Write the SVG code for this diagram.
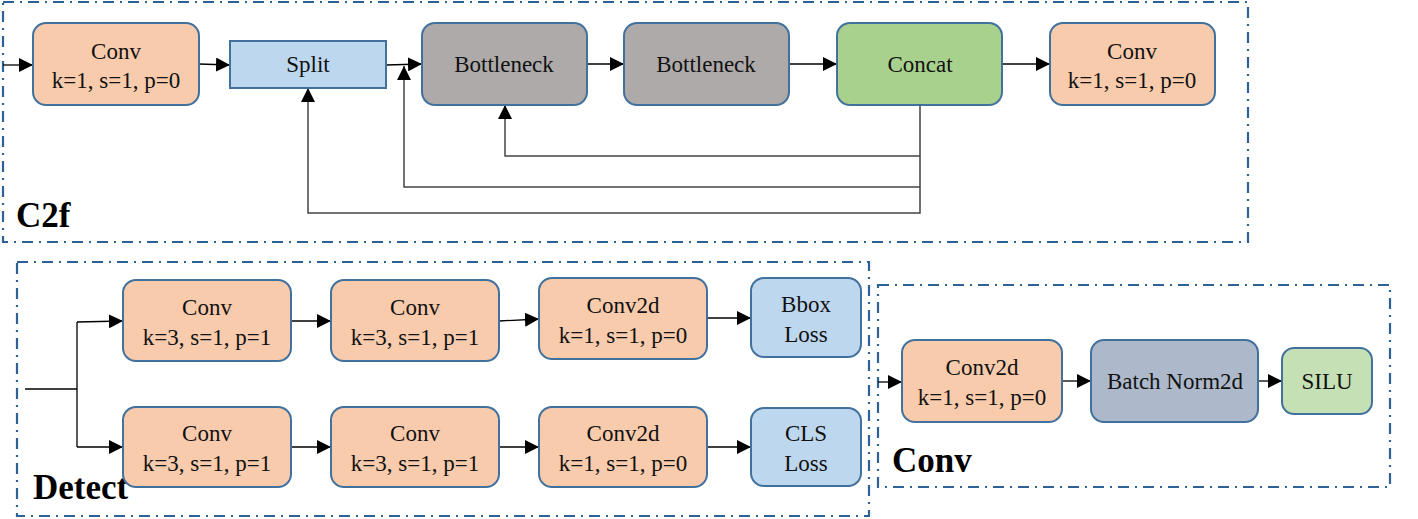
<svg xmlns="http://www.w3.org/2000/svg" width="1418" height="519" viewBox="0 0 1418 519">
<style>
.frame{fill:none;stroke:#2e6196;stroke-width:2.2;stroke-dasharray:11 6 2 6}
.nd{stroke:#41719c;stroke-width:2}
.or{fill:#f8cbad}.bl{fill:#bdd7ee}.gr{fill:#aeaaaa}.gn{fill:#a9d18e}.bn{fill:#adb9ca}.sl{fill:#c5e0b4}
text{font-family:"Liberation Serif","Times New Roman",serif;font-size:23px;fill:#111;text-anchor:middle}
.lbl{font-weight:bold;font-size:35px;text-anchor:start;fill:#000}
.ln{fill:none;stroke:#000;stroke-width:1.3}
.fb{fill:none;stroke:#444;stroke-width:1.5}
</style>
<defs>
<marker id="ah" viewBox="0 0 10 10" refX="10" refY="5" markerWidth="14" markerHeight="14" markerUnits="userSpaceOnUse" orient="auto">
<path d="M0,0 L10,5 L0,10 z" fill="#000"/>
</marker>
</defs>
<rect x="0" y="0" width="1418" height="519" fill="#fff"/>
<g id="frames">
<rect class="frame" x="3" y="2" width="1245" height="240"/>
<rect class="frame" x="17" y="262" width="852" height="254"/>
<rect class="frame" x="878" y="285" width="512" height="202"/>
</g>
<g id="labels">
<text class="lbl" x="16" y="227">C2f</text>
<text class="lbl" x="33" y="499">Detect</text>
<text class="lbl" x="892" y="472">Conv</text>
</g>
<g id="connectors">
<line class="ln" x1="3" y1="65" x2="33" y2="65" marker-end="url(#ah)"/>
<line class="ln" x1="199" y1="64" x2="230" y2="65" marker-end="url(#ah)"/>
<line class="ln" x1="386" y1="65" x2="422" y2="64" marker-end="url(#ah)"/>
<line class="ln" x1="587" y1="64" x2="624" y2="64" marker-end="url(#ah)"/>
<line class="ln" x1="789" y1="64" x2="837" y2="64" marker-end="url(#ah)"/>
<line class="ln" x1="1002" y1="64" x2="1050" y2="64" marker-end="url(#ah)"/>
<polyline class="fb" points="920,105 920,213 308,213 308,88" marker-end="url(#ah)"/>
<polyline class="fb" points="920,156 505,156 505,105" marker-end="url(#ah)"/>
<polyline class="fb" points="920,187 404,187 404,66" marker-end="url(#ah)"/>
<polyline class="ln" points="25,389 77,389"/>
<polyline class="ln" points="77,322 77,447"/>
<line class="ln" x1="77" y1="322" x2="123" y2="321" marker-end="url(#ah)"/>
<line class="ln" x1="77" y1="447" x2="123" y2="447" marker-end="url(#ah)"/>
<line class="ln" x1="291" y1="321" x2="331" y2="321" marker-end="url(#ah)"/>
<line class="ln" x1="499" y1="321" x2="539" y2="319" marker-end="url(#ah)"/>
<line class="ln" x1="707" y1="318" x2="751" y2="318" marker-end="url(#ah)"/>
<line class="ln" x1="291" y1="447" x2="331" y2="447" marker-end="url(#ah)"/>
<line class="ln" x1="499" y1="447" x2="539" y2="447" marker-end="url(#ah)"/>
<line class="ln" x1="707" y1="447" x2="751" y2="447" marker-end="url(#ah)"/>
<line class="ln" x1="878" y1="382" x2="902" y2="382" marker-end="url(#ah)"/>
<line class="ln" x1="1062" y1="381" x2="1091" y2="381" marker-end="url(#ah)"/>
<line class="ln" x1="1258" y1="381" x2="1282" y2="381" marker-end="url(#ah)"/>
</g>
<g id="c2f-conv1"><rect class="nd or" x="33" y="23" width="166" height="82" rx="13"/><text x="116" y="59">Conv</text><text x="116" y="88">k=1, s=1, p=0</text></g>
<g id="c2f-split"><rect class="nd bl" x="230" y="41" width="156" height="47"/><text x="308" y="72">Split</text></g>
<g id="c2f-bottleneck1"><rect class="nd gr" x="422" y="23" width="165" height="82" rx="13"/><text x="504" y="72">Bottleneck</text></g>
<g id="c2f-bottleneck2"><rect class="nd gr" x="624" y="23" width="165" height="82" rx="13"/><text x="706" y="72">Bottleneck</text></g>
<g id="c2f-concat"><rect class="nd gn" x="837" y="23" width="165" height="82" rx="13"/><text x="920" y="72">Concat</text></g>
<g id="c2f-conv2"><rect class="nd or" x="1050" y="23" width="165" height="82" rx="13"/><text x="1132" y="59">Conv</text><text x="1132" y="88">k=1, s=1, p=0</text></g>
<g id="det-conv-a1"><rect class="nd or" x="123" y="280" width="168" height="81" rx="13"/><text x="207" y="315">Conv</text><text x="207" y="345">k=3, s=1, p=1</text></g>
<g id="det-conv-a2"><rect class="nd or" x="331" y="280" width="168" height="81" rx="13"/><text x="415" y="315">Conv</text><text x="415" y="345">k=3, s=1, p=1</text></g>
<g id="det-conv2d-a"><rect class="nd or" x="539" y="278" width="168" height="81" rx="13"/><text x="623" y="313">Conv2d</text><text x="623" y="343">k=1, s=1, p=0</text></g>
<g id="det-bbox"><rect class="nd bl" x="751" y="278" width="110" height="79" rx="13"/><text x="806" y="312">Bbox</text><text x="806" y="342">Loss</text></g>
<g id="det-conv-b1"><rect class="nd or" x="123" y="407" width="168" height="80" rx="13"/><text x="207" y="441">Conv</text><text x="207" y="471">k=3, s=1, p=1</text></g>
<g id="det-conv-b2"><rect class="nd or" x="331" y="407" width="168" height="80" rx="13"/><text x="415" y="441">Conv</text><text x="415" y="471">k=3, s=1, p=1</text></g>
<g id="det-conv2d-b"><rect class="nd or" x="539" y="407" width="168" height="80" rx="13"/><text x="623" y="441">Conv2d</text><text x="623" y="471">k=1, s=1, p=0</text></g>
<g id="det-cls"><rect class="nd bl" x="751" y="408" width="110" height="78" rx="13"/><text x="806" y="441">CLS</text><text x="806" y="471">Loss</text></g>
<g id="conv-conv2d"><rect class="nd or" x="902" y="340" width="160" height="82" rx="13"/><text x="982" y="375">Conv2d</text><text x="982" y="405">k=1, s=1, p=0</text></g>
<g id="conv-bn"><rect class="nd bn" x="1091" y="340" width="167" height="82" rx="13"/><text x="1175" y="389">Batch Norm2d</text></g>
<g id="conv-silu"><rect class="nd sl" x="1282" y="348" width="90" height="66" rx="12"/><text x="1327" y="389">SILU</text></g>
</svg>
